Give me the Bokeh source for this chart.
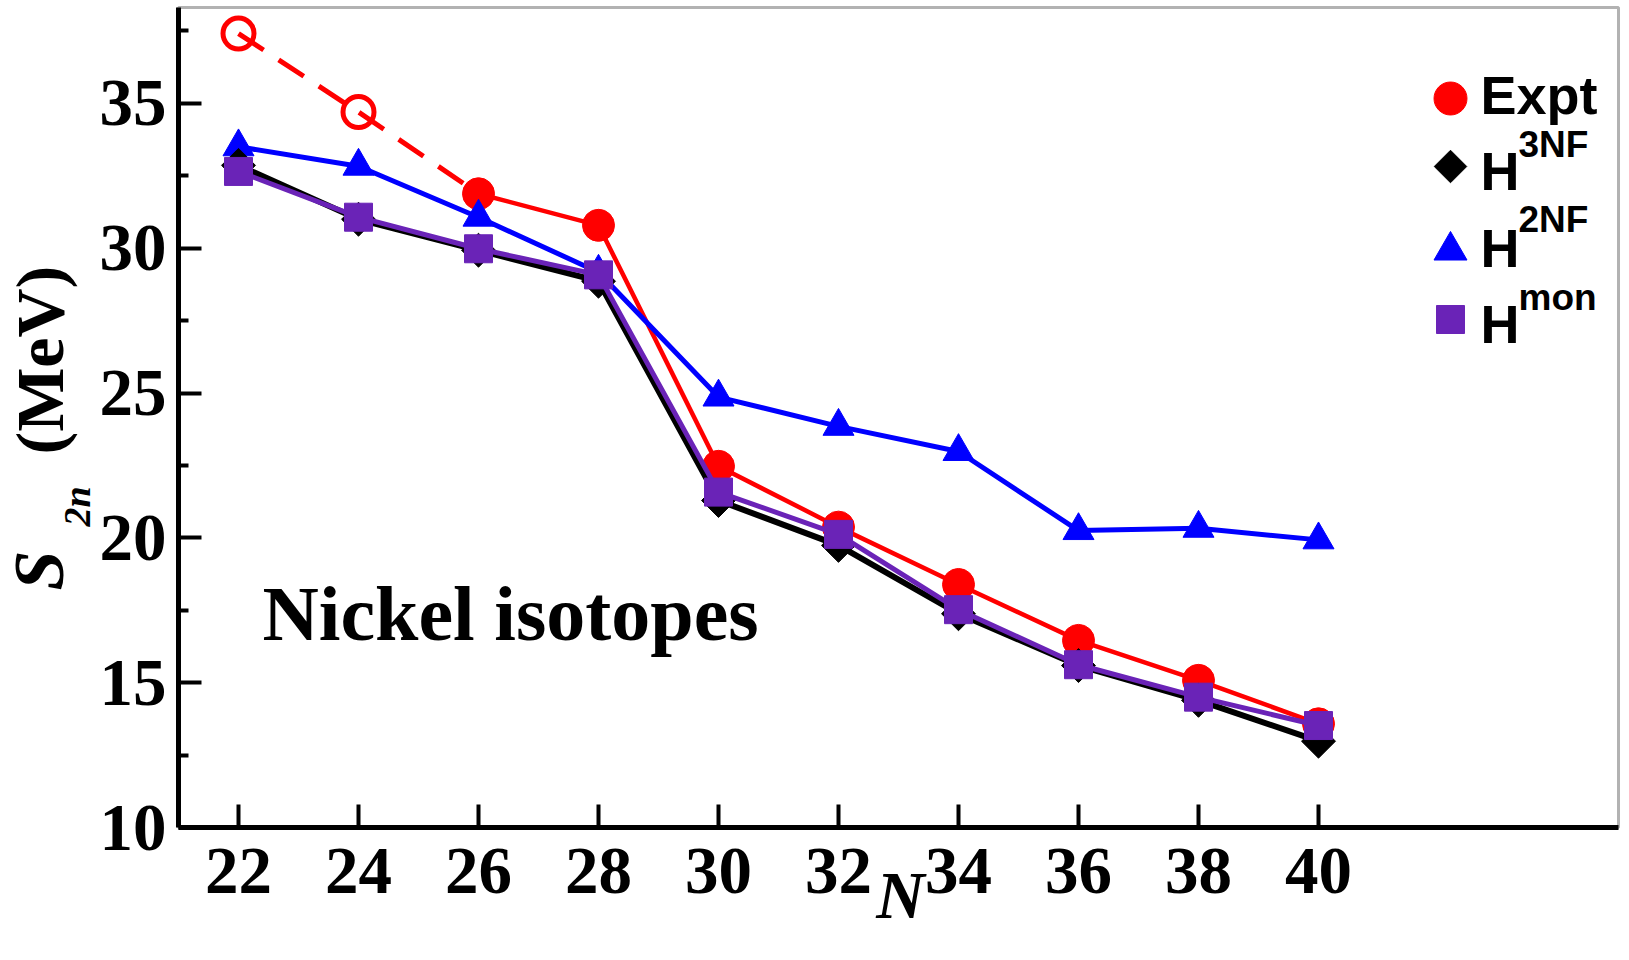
import math

from bokeh.plotting import figure
from bokeh.models import Range1d, FixedTicker, Label, BoxAnnotation
from bokeh.embed import file_html
from bokeh.resources import INLINE

# Two-neutron separation energies of the Ni isotopes (MeV)
N = [22, 24, 26, 28, 30, 32, 34, 36, 38, 40]

# experiment: the two lightest values are extrapolations (open symbols, dashed)
n_extrap = [22, 24]
s2n_extrap = [37.41, 34.70]
n_expt = [26, 28, 30, 32, 34, 36, 38, 40]
s2n_expt = [31.88, 30.79, 22.47, 20.37, 18.39, 16.46, 15.08, 13.58]

# shell-model results
s2n_3nf = [32.86, 31.00, 29.93, 28.86, 21.29, 19.74, 17.38, 15.59, 14.39, 12.98]
s2n_2nf = [33.50, 32.83, 31.07, 29.17, 24.86, 23.85, 22.98, 20.25, 20.33, 19.93]
s2n_mon = [32.65, 31.07, 29.98, 29.08, 21.58, 20.12, 17.52, 15.62, 14.50, 13.52]

y_ticks = [10, 15, 20, 25, 30, 35]
y_minor = [12.5, 17.5, 22.5, 27.5, 32.5, 37.5]

RED, BLACK, BLUE, PURPLE = "#ff0000", "#000000", "#0000ff", "#6a23b7"
SERIF = "Liberation Serif"
SANS = "Liberation Sans"

# page geometry: the plot frame fills the page, the axes box sits inside it
W, H = 1629, 960
BOX_L, BOX_R, BOX_T, BOX_B = 178, 1618, 7, 827
X_LO, X_HI = 21, 45
Y_LO, Y_HI = 10, 38.31
kx = (X_HI - X_LO) / (BOX_R - BOX_L)
ky = (Y_HI - Y_LO) / (BOX_B - BOX_T)
x_range = Range1d(X_LO - BOX_L * kx, X_HI + (W - BOX_R) * kx)
y_range = Range1d(Y_LO - (H - BOX_B) * ky, Y_HI + BOX_T * ky)

p = figure(
    width=W, height=H, x_range=x_range, y_range=y_range,
    output_backend="svg", toolbar_location=None, title_location=None,
    min_border=0, background_fill_color="white", border_fill_color="white",
)
p.xgrid.visible = False
p.ygrid.visible = False
p.outline_line_color = None

# axes pinned to the lower-left corner of the box
p.xaxis.fixed_location = Y_LO
p.xaxis.bounds = (X_LO, X_HI)
p.yaxis.fixed_location = X_LO
p.yaxis.bounds = (Y_LO, Y_HI)
p.xaxis.ticker = FixedTicker(ticks=N)
p.yaxis.ticker = FixedTicker(ticks=y_ticks, minor_ticks=y_minor)
for ax in (p.xaxis[0], p.yaxis[0]):
    ax.axis_line_width = 5
    ax.axis_line_color = "black"
    ax.major_tick_in = 23
    ax.major_tick_out = 0
    ax.minor_tick_in = 10
    ax.minor_tick_out = 0
    ax.major_tick_line_width = 4
    ax.minor_tick_line_width = 4
    ax.major_label_text_font = SERIF
    ax.major_label_text_font_style = "bold"
    ax.major_label_text_font_size = "67px"
    ax.major_label_text_color = "black"
p.xaxis.minor_tick_line_color = None
p.xaxis.major_label_standoff = 21
p.yaxis.major_label_standoff = 12

# thin top and right sides of the box
p.add_layout(BoxAnnotation(left=X_LO, right=X_HI, bottom=Y_LO, top=Y_HI,
                           fill_color=None, fill_alpha=0,
                           line_color="black", line_width=3))

# experiment
p.line(n_extrap + n_expt[:1], s2n_extrap + s2n_expt[:1], line_color=RED,
       line_width=5, line_dash="30 18")
p.scatter(n_extrap, s2n_extrap, marker="circle", size=31, fill_color=None,
          line_color=RED, line_width=5)
p.line(n_expt, s2n_expt, line_color=RED, line_width=4.5)
p.scatter(n_expt, s2n_expt, marker="circle", size=32, fill_color=RED,
          line_color=RED)

# 2NF only
p.line(N, s2n_2nf, line_color=BLUE, line_width=5)
p.scatter(N, s2n_2nf, marker="triangle", size=31, fill_color=BLUE,
          line_color=BLUE)

# 2NF + 3NF
p.line(N, s2n_3nf, line_color=BLACK, line_width=6)
p.scatter(N, s2n_3nf, marker="square", angle=math.pi / 4, size=24,
          fill_color=BLACK, line_color=BLACK)

# monopole part
p.line(N, s2n_mon, line_color=PURPLE, line_width=5)
p.scatter(N, s2n_mon, marker="square", size=28, fill_color=PURPLE,
          line_color=PURPLE)

# legend keys, placed in page pixels (y measured from the bottom)
p.extra_x_ranges = {"px": Range1d(0, W)}
p.extra_y_ranges = {"px": Range1d(0, H)}
key_x = 1450
keys = [
    dict(marker="circle", top=98, size=33, angle=0.0, color=RED),
    dict(marker="square", top=166, size=23, angle=math.pi / 4, color=BLACK),
    dict(marker="triangle", top=250, size=33, angle=0.0, color=BLUE),
    dict(marker="square", top=319, size=28, angle=0.0, color=PURPLE),
]
for k in keys:
    p.scatter([key_x], [H - k["top"]], marker=k["marker"], size=k["size"],
              angle=k["angle"], fill_color=k["color"], line_color=k["color"],
              x_range_name="px", y_range_name="px")


def add_text(text, cx, cy, size, font=SANS, style="bold", angle=0.0,
             align="left"):
    """Place text with its baseline start at page pixel (cx, cy)."""
    shift = 0.36 * size
    if angle:
        x, y = cx - shift, H - cy
    else:
        x, y = cx, H - cy + shift
    p.add_layout(Label(
        x=x, y=y, x_units="screen", y_units="screen", text=text,
        text_font=font, text_font_style=style, text_font_size=f"{size}px",
        text_color="black", text_align=align, text_baseline="alphabetic",
        angle=angle,
    ))


# legend texts
add_text("Expt", 1480, 114, 54)
add_text("H", 1480, 190, 54)
add_text("3NF", 1518, 157, 37)
add_text("H", 1480, 267, 54)
add_text("2NF", 1518, 232, 37)
add_text("H", 1480, 343, 54)
add_text("mon", 1518, 310, 37)

# axis titles
add_text("S", 64, 590, 72, font=SERIF, style="bold italic", angle=math.pi / 2)
add_text("2n", 90, 526, 38, font=SERIF, style="bold italic", angle=math.pi / 2)
add_text("(MeV)", 64, 454, 68, font=SERIF, style="bold", angle=math.pi / 2)
add_text("N", 900, 919, 67, font=SERIF, style="bold italic", align="center")

# panel caption
add_text("Nickel isotopes", 262, 641, 78, font=SERIF, style="bold")

open("out.html", "w").write(file_html(p, INLINE))
